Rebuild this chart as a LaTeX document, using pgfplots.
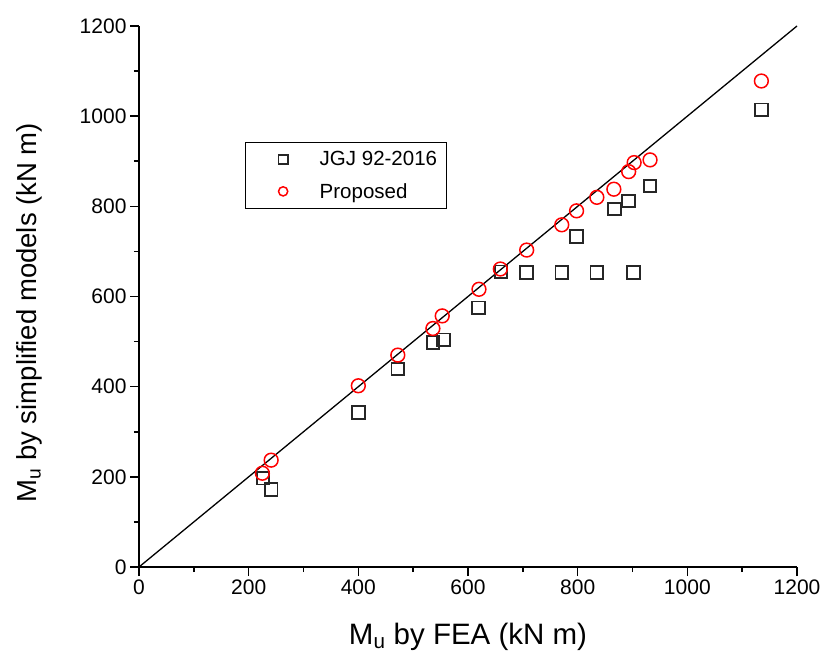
\documentclass[border=0pt]{standalone}
\usepackage{fontspec}
\setmainfont{Liberation Sans}
\usepackage{pgfplots}
\pgfplotsset{compat=1.18}
\usetikzlibrary{calc}
\definecolor{pred}{RGB}{255,0,0}
\begin{document}
\begin{tikzpicture}
\begin{axis}[
  name=ax,
  scale only axis, width=658pt, height=541pt,
  xmin=0, xmax=1200, ymin=0, ymax=1200,
  axis x line*=bottom, axis y line*=left,
  axis line style={line width=1.8pt, black},
  xtick={0,200,...,1200}, ytick={0,200,...,1200},
  minor tick num=1,
  tick align=outside,
  major tick length=9pt, minor tick length=5pt,
  every tick/.style={line width=1.6pt, black},
  /pgf/number format/assume math mode=true,
  /pgf/number format/1000 sep={},
  tick label style={font=\fontsize{21}{24}\selectfont},
  xlabel={M\textsubscript{u} by FEA (kN m)},
  ylabel={M\textsubscript{u} by simplified models (kN m)},
  xlabel style={at={(axis description cs:0.5,-0.13)}, anchor=center, font=\fontsize{29.5}{32}\selectfont},
  ylabel style={at={(axis description cs:-0.166,0.47)}, anchor=center, font=\fontsize{27.5}{32}\selectfont},
  legend style={at={(0.161,0.786)}, anchor=north west, draw=black, line width=1.2pt,
    font=\fontsize{20.5}{24}\selectfont, inner xsep=7pt, inner ysep=7pt, row sep=12pt,
    /tikz/every odd column/.append style={column sep=29pt}},
  legend image code/.code={
    \path (-30pt,0pt) (5pt,0pt);
    \draw[#1, mark size=4.6pt] plot coordinates {(0pt,0pt)};
  },
  legend cell align=left,
  clip=false,
]
\addplot[black, line width=1.3pt, forget plot] coordinates {(0,0) (1200,1200)};
\addplot[only marks, mark=square, mark size=6.3pt, black!85, mark options={line width=1.8pt}]
  coordinates {
  (226,197) (241,172) (400,343) (472,439) (536,498) (555,504) (619,575)
  (660,655) (707,653) (771,653) (835,653) (902,653) (798,733) (867,794)
  (893,812) (932,845) (1135,1014)
  };
\addlegendentry{JGJ 92-2016}
\addplot[only marks, mark=o, mark size=6.9pt, pred, mark options={line width=1.5pt}]
  coordinates {
  (225,208) (241,237) (400,402) (472,470) (536,529) (553,557) (620,616)
  (659,661) (707,703) (771,759) (798,790) (835,820) (866,838) (893,877)
  (903,897) (932,903) (1135,1078)
  };
\addlegendentry{Proposed}
\end{axis}
\pgfresetboundingbox
\useasboundingbox ($(ax.south west)+(-139pt,-97pt)$) rectangle ($(ax.north east)+(29pt,26pt)$);
\end{tikzpicture}
\end{document}
